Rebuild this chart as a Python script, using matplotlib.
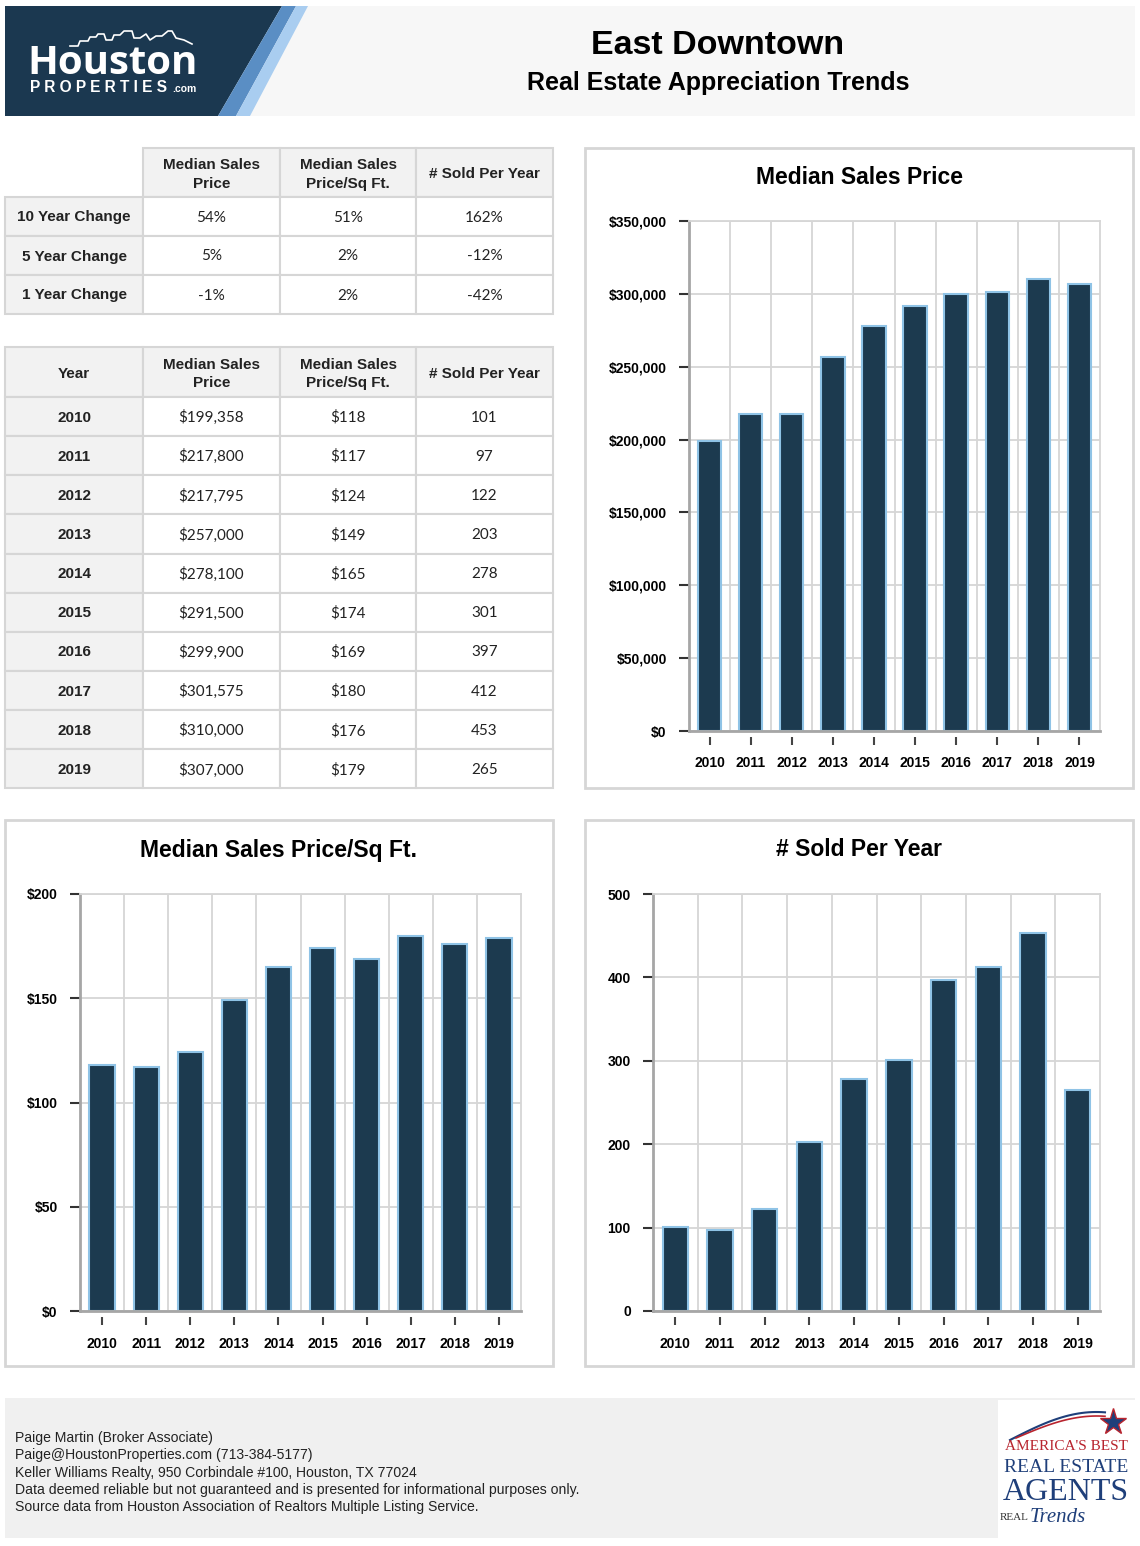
import numpy as np
import matplotlib
matplotlib.use("Agg")
import matplotlib.pyplot as plt
from matplotlib.patches import Rectangle, Polygon

plt.rcParams["font.family"] = ["Liberation Sans", "DejaVu Sans"]

W, H = 1140, 1546

# --- data -------------------------------------------------------------
YEARS = ["2010", "2011", "2012", "2013", "2014", "2015", "2016", "2017", "2018", "2019"]
MEDIAN_PRICE = [199358, 217800, 217795, 257000, 278100, 291500, 299900, 301575, 310000, 307000]
PRICE_SQFT = [118, 117, 124, 149, 165, 174, 169, 180, 176, 179]
SOLD = [101, 97, 122, 203, 278, 301, 397, 412, 453, 265]

COL_HEADS = ["Median Sales\nPrice", "Median Sales\nPrice/Sq Ft.", "# Sold Per Year"]
CHANGE_LABELS = ["10 Year Change", "5 Year Change", "1 Year Change"]
CHANGE_PRICE = ["54%", "5%", "-1%"]
CHANGE_SQFT = ["51%", "2%", "2%"]
CHANGE_SOLD = ["162%", "-12%", "-42%"]

FOOTER = [
    "Paige Martin (Broker Associate)",
    "Paige@HoustonProperties.com (713-384-5177)",
    "Keller Williams Realty, 950 Corbindale #100, Houston, TX 77024",
    "Data deemed reliable but not guaranteed and is presented for informational purposes only.",
    "Source data from Houston Association of Realtors Multiple Listing Service.",
]

NAVY = "#1c3a4f"
EDGE = "#8fc3e6"
GRID = "#d6d6d6"
CELL_BG = "#f2f2f2"
AXIS = "#a6a6a6"

COLS = [5, 143, 280, 416, 553]


def frac(x0, y0, x1, y1):
    return [x0 / W, 1 - y1 / H, (x1 - x0) / W, (y1 - y0) / H]


fig = plt.figure(figsize=(W / 100, H / 100), dpi=100)
bg = fig.add_axes([0, 0, 1, 1], zorder=0)
bg.set_xlim(0, W)
bg.set_ylim(H, 0)
bg.axis("off")

# --- header -----------------------------------------------------------
bg.add_patch(Rectangle((5, 6), 1130, 110, color="#f7f7f7", lw=0))
bg.add_patch(Polygon([(5, 6), (282, 6), (218, 116), (5, 116)], color="#1b3850", lw=0))
bg.add_patch(Polygon([(282, 6), (296, 6), (236, 116), (218, 116)], color="#5a8ec4", lw=0))
bg.add_patch(Polygon([(296, 6), (308, 6), (250, 116), (236, 116)], color="#a9cdf0", lw=0))
sky_x = [70, 78, 80, 88, 90, 96, 98, 104, 106, 112, 114, 120, 124, 132, 134, 140, 146, 150, 156, 162, 168, 172, 176, 184, 192]
sky_y = [46, 46, 41, 41, 37, 37, 34, 34, 40, 40, 35, 35, 31, 31, 38, 38, 34, 40, 36, 36, 31, 31, 38, 40, 44]
bg.plot(sky_x, sky_y, color="white", lw=1.2)
bg.text(113, 63, "Houston", color="white", fontsize=29, fontweight="bold",
        ha="center", va="center", family=["Open Sans", "DejaVu Sans"])
bg.text(30, 88, "P R O P E R T I E S", color="white", fontsize=11.2, fontweight="bold",
        ha="left", va="center")
bg.text(184, 89, ".com", color="white", fontsize=7.5, fontweight="bold", ha="center", va="center")

bg.text(718, 46, "East Downtown", fontsize=24.5, fontweight="bold", ha="center", va="center")
bg.text(718, 83, "Real Estate Appreciation Trends", fontsize=18, fontweight="bold",
        ha="center", va="center")


# --- tables -----------------------------------------------------------
def cell(x0, x1, y0, y1, fill):
    bg.add_patch(Rectangle((x0, y0), x1 - x0, y1 - y0, facecolor=fill,
                           edgecolor=GRID, lw=1.5))


def draw_table(top, head_h, row_h, corner, rows):
    hb = top + head_h
    for c in range(4):
        if c == 0 and corner is None:
            continue
        cell(COLS[c], COLS[c + 1], top, hb, CELL_BG)
        txt = corner if c == 0 else COL_HEADS[c - 1]
        bg.text((COLS[c] + COLS[c + 1]) / 2, (top + hb) / 2 + 2, txt, fontsize=11,
                fontweight="bold", ha="center", va="center", linespacing=1.4, color="#222")
    for r, row in enumerate(rows):
        y0 = hb + r * row_h
        y1 = y0 + row_h
        for c in range(4):
            cell(COLS[c], COLS[c + 1], y0, y1, CELL_BG if c == 0 else "white")
            kw = dict(fontweight="bold") if c == 0 else dict(family=["Lato", "DejaVu Sans"])
            bg.text((COLS[c] + COLS[c + 1]) / 2, (y0 + y1) / 2 + 1, row[c], fontsize=11,
                    ha="center", va="center", color="#222", **kw)


change_rows = list(zip(CHANGE_LABELS, CHANGE_PRICE, CHANGE_SQFT, CHANGE_SOLD))
draw_table(148, 49, 39, None, change_rows)

year_rows = [(y, f"${p:,}", f"${s}", f"{n}")
             for y, p, s, n in zip(YEARS, MEDIAN_PRICE, PRICE_SQFT, SOLD)]
draw_table(347, 50, 39.15, "Year", year_rows)

# --- chart panels -----------------------------------------------------
PANELS = [
    ((585, 148, 1133, 788), "Median Sales Price", 178),
    ((5, 820, 553, 1366), "Median Sales Price/Sq Ft.", 850),
    ((585, 820, 1133, 1366), "# Sold Per Year", 850),
]
for (x0, y0, x1, y1), title, ty in PANELS:
    bg.add_patch(Rectangle((x0, y0), x1 - x0, y1 - y0, facecolor="white", edgecolor=GRID, lw=2))
    bg.text((x0 + x1) / 2, ty, title, fontsize=16.5, fontweight="bold", ha="center", va="center")


def bar_chart(box, vals, ymax, step, fmt, xpad):
    ax = fig.add_axes(frac(*box), zorder=1)
    # spine position first: moving it resets the tick labels
    ax.spines["bottom"].set_position(("outward", 4))
    ax.spines["bottom"].set_visible(False)
    x = np.arange(len(YEARS))
    ax.bar(x, vals, width=0.57, color=NAVY, edgecolor=EDGE, linewidth=1.5, zorder=3)
    ax.set_xlim(-0.5, len(YEARS) - 0.5)
    ax.set_ylim(0, ymax)
    ticks = np.arange(0, ymax + 1, step)
    ax.set_yticks(ticks)
    ax.set_yticklabels([fmt(t) for t in ticks], fontsize=10, fontweight="bold")
    ax.set_xticks(x)
    ax.set_xticklabels(YEARS, fontsize=10, fontweight="bold")
    ax.grid(axis="y", color=GRID, lw=1.3, zorder=0)
    for b in x[:-1] + 0.5:
        ax.axvline(b, color=GRID, lw=1.3, zorder=0)
    ax.set_axisbelow(True)
    for s in ("top", "right"):
        ax.spines[s].set_color(GRID)
        ax.spines[s].set_linewidth(1.3)
    ax.spines["left"].set_color(AXIS)
    ax.spines["left"].set_linewidth(2)
    ax.axhline(0, color=AXIS, lw=2, zorder=4, clip_on=False)
    ax.tick_params(axis="x", length=6, width=1.5, color="#444", pad=xpad)
    ax.tick_params(axis="y", length=7, width=1.5, color="#333", pad=9)
    return ax


bar_chart((689, 221, 1100, 731), MEDIAN_PRICE, 350000, 50000, lambda v: f"${int(v):,}", 8)
bar_chart((80, 894, 521, 1311), PRICE_SQFT, 200, 50, lambda v: f"${int(v)}", 9)
bar_chart((653, 894, 1100, 1311), SOLD, 500, 100, lambda v: f"{int(v)}", 9)

# --- footer -----------------------------------------------------------
bg.add_patch(Rectangle((5, 1398), 1130, 140, color="#f0f0f0", lw=0))
for i, line in enumerate(FOOTER):
    bg.text(15, 1438 + i * 17.3, line, fontsize=10.1, ha="left", va="center", color="#222")

bg.add_patch(Rectangle((998, 1400), 137, 138, color="white", lw=0))
arc_t = np.linspace(0, 1, 30)
bg.plot(1010 + 95 * arc_t, 1440 - 28 * np.sin(arc_t * np.pi * 0.55), color="#1f3f7a", lw=1.5)
bg.plot(1016 + 89 * arc_t, 1438 - 22 * np.sin(arc_t * np.pi * 0.55), color="#b8242e", lw=1.2)
bg.plot([1113], [1422], marker="*", ms=20, color="#1f3f7a", mec="#b8242e", mew=1)
serif = ["Liberation Serif", "DejaVu Serif"]
bg.text(1066, 1447, "AMERICA'S BEST", fontsize=11, color="#b8242e", ha="center", va="center", family=serif)
bg.text(1066, 1467, "REAL ESTATE", fontsize=14, color="#1f3f7a", ha="center", va="center", family=serif)
bg.text(1066, 1492, "AGENTS", fontsize=23, color="#1f3f7a", ha="center", va="center", family=serif)
bg.text(1000, 1517, "REAL", fontsize=8, color="#333", ha="left", va="center", family=serif)
bg.text(1030, 1517, "Trends", fontsize=15, color="#1f3f7a", ha="left", va="center",
        family=serif, style="italic")

fig.savefig("out.png", dpi=100)
